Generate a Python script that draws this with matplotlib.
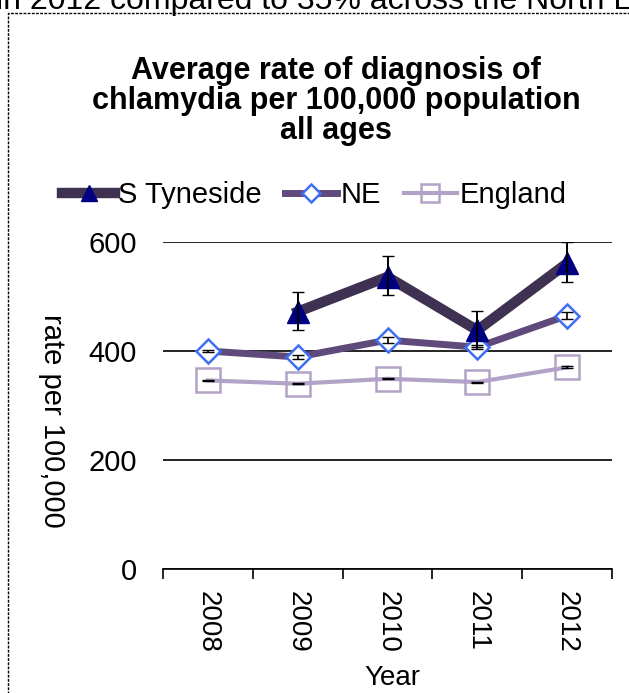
import matplotlib.pyplot as plt
from matplotlib.patches import Rectangle

plt.rcParams['font.family'] = ['Liberation Sans', 'DejaVu Sans']

years = ['2008', '2009', '2010', '2011', '2012']

# rates per 100,000 (None where no value)
s_tyneside = [None, 472, 536, 438, 561]
s_tyneside_lo = [None, 439, 502, 407, 527]
s_tyneside_hi = [None, 509, 575, 474, 600]

ne = [400, 389, 420, 407, 465]
ne_lo = [398, 386, 415, 403, 458]
ne_hi = [402, 392, 425, 411, 472]

england = [346, 340, 349, 343, 370]
england_lo = [345, 339, 348, 342, 368]
england_hi = [347, 341, 350, 344, 372]

W, H = 629, 693
fig = plt.figure(figsize=(W / 100, H / 100), dpi=100)
ax = fig.add_axes([163 / W, 1 - 569 / H, 449 / W, 327 / H])

x = list(range(len(years)))


def err(vals, lo, hi):
    xs, ys, el, eh = [], [], [], []
    for i, (v, a, b) in enumerate(zip(vals, lo, hi)):
        if v is None:
            continue
        xs.append(i)
        ys.append(v)
        el.append(v - a)
        eh.append(b - v)
    return xs, ys, [el, eh]


# England
xs, ys, e = err(england, england_lo, england_hi)
ax.plot(xs, ys, color='#b3a2c7', lw=3, zorder=3,
        marker='s', ms=17, mfc='none', mec='#b3a2c7', mew=1.8, label='England')
ax.errorbar(xs, ys, yerr=e, fmt='none', ecolor='black', elinewidth=1.2, capsize=4, zorder=4)

# North East
xs, ys, e = err(ne, ne_lo, ne_hi)
ax.plot(xs, ys, color='#604a7b', lw=5, zorder=5,
        marker='D', ms=12, mfc='white', mec='#3d6ff5', mew=1.8, label='NE')
ax.errorbar(xs, ys, yerr=e, fmt='none', ecolor='black', elinewidth=1.2, capsize=4, zorder=6)

# South Tyneside
xs, ys, e = err(s_tyneside, s_tyneside_lo, s_tyneside_hi)
ax.plot(xs, ys, color='#3f3151', lw=7.5, zorder=7,
        marker='^', ms=16, mfc='#000080', mec='#000080', label='S Tyneside')
ax.errorbar(xs, ys, yerr=e, fmt='none', ecolor='black', elinewidth=1.4, capsize=4, zorder=8)

ax.set_ylim(0, 600)
ax.set_xlim(-0.5, len(years) - 0.5)
ax.set_yticks([0, 200, 400, 600])
ax.yaxis.grid(True, color='black', lw=1.2)
ax.set_axisbelow(True)
ax.tick_params(axis='y', length=0, labelsize=21, pad=19)

# tick marks between categories, labels at the centres
ax.set_xticks([i - 0.5 for i in range(len(years) + 1)])
ax.set_xticklabels([])
ax.set_xticks(x, minor=True)
ax.set_xticklabels(years, minor=True, rotation=-90, fontsize=20)
ax.tick_params(axis='x', which='major', length=7, width=1.2, direction='out')
ax.tick_params(axis='x', which='minor', length=0, pad=16)

for s in ['top', 'right', 'left']:
    ax.spines[s].set_visible(False)
ax.spines['bottom'].set_linewidth(1.2)

ax.set_ylabel('rate per 100,000', rotation=-90, fontsize=21, va='center')
ax.yaxis.set_label_coords((52 - 163) / 449, (569 - 421) / 327)
ax.set_xlabel('Year', fontsize=20)
ax.xaxis.set_label_coords(0.51, (569 - 665) / 327)

fig.text(336 / W, 1 - 101 / H, 'Average rate of diagnosis of\nchlamydia per 100,000 population\nall ages',
         ha='center', va='center', fontsize=22, fontweight='bold', linespacing=1.0)

handles, labels = ax.get_legend_handles_labels()
fig.legend(handles[::-1], labels[::-1], loc='center', bbox_to_anchor=(0.5, 1 - 195 / H), ncol=3,
           frameon=False, fontsize=21, handlelength=1.8, handletextpad=0.1,
           columnspacing=0.8, markerscale=0.75)

# dashed frame and the clipped caption above it
fig.patches.append(Rectangle((8 / W, -0.01), 1.0, 1 - 13 / H + 0.01, transform=fig.transFigure,
                             fill=False, ec='black', lw=1, ls=(0, (2, 1)), clip_on=False))
fig.text(-4 / W, 1 - 9 / H, 'in 2012 compared to 35% across the North East', ha='left', va='baseline',
         fontsize=23)

fig.savefig('out.png', dpi=100)
